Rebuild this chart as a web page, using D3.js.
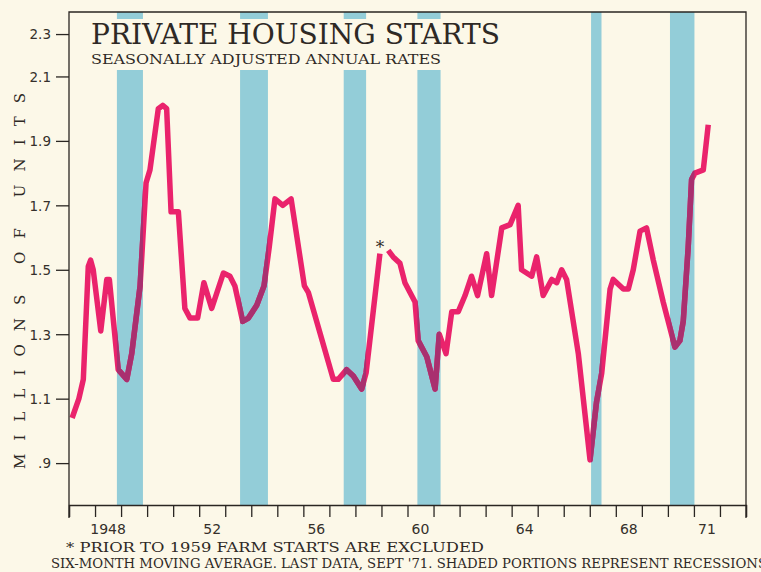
<!DOCTYPE html>
<html>
<head>
<meta charset="utf-8">
<script src="https://cdn.jsdelivr.net/npm/d3@7"></script>
<style>
  html, body { margin: 0; padding: 0; background: #fcf8e8; }
  svg { display: block; }
  .num { font-family: "DejaVu Sans", sans-serif; fill: #35302b; }
  .letters { font-family: "DejaVu Serif", serif; fill: #2e2925; }
</style>
</head>
<body>
<div id="chart"></div>
<script>
// six-month moving average, millions of units
const years = [
  1947.12, 1947.38, 1947.55, 1947.74, 1947.83, 1947.93, 1948.22, 1948.45, 1948.55, 1948.89,
  1949.22, 1949.41, 1949.73, 1949.96, 1950.11, 1950.43, 1950.60, 1950.75, 1950.92, 1951.20,
  1951.45, 1951.65, 1951.94, 1952.18, 1952.48, 1952.93, 1953.18, 1953.37, 1953.67, 1953.89,
  1954.21, 1954.49, 1954.69, 1954.91, 1955.21, 1955.53, 1956.04, 1956.19, 1957.15, 1957.34,
  1957.66, 1957.92, 1958.24, 1958.41, 1958.94, 1959.10, 1959.26, 1959.45, 1959.71, 1959.90,
  1960.29, 1960.41, 1960.74, 1961.06, 1961.22, 1961.48, 1961.70, 1961.95, 1962.21, 1962.46,
  1962.69, 1963.04, 1963.23, 1963.62, 1963.94, 1964.25, 1964.38, 1964.77, 1964.96, 1965.21,
  1965.54, 1965.73, 1965.92, 1966.11, 1966.56, 1967.01, 1967.26, 1967.46, 1967.78, 1967.90,
  1968.29, 1968.48, 1968.67, 1968.93, 1969.18, 1969.44, 1969.82, 1970.27, 1970.46, 1970.59,
  1970.78, 1970.91, 1971.04, 1971.36, 1971.55
];
// null = break in the series (farm starts included from 1959)
const starts = [
  1.04, 1.10, 1.16, 1.51, 1.53, 1.50, 1.31, 1.47, 1.47, 1.19,
  1.16, 1.24, 1.45, 1.77, 1.81, 2.00, 2.01, 2.00, 1.68, 1.68,
  1.38, 1.35, 1.35, 1.46, 1.38, 1.49, 1.48, 1.45, 1.34, 1.35,
  1.39, 1.45, 1.57, 1.72, 1.70, 1.72, 1.45, 1.43, 1.16, 1.16,
  1.19, 1.17, 1.13, 1.18, 1.55, null, 1.56, 1.54, 1.52, 1.46,
  1.40, 1.28, 1.23, 1.13, 1.30, 1.24, 1.37, 1.37, 1.42, 1.48,
  1.42, 1.55, 1.42, 1.63, 1.64, 1.70, 1.50, 1.48, 1.54, 1.42,
  1.47, 1.46, 1.50, 1.47, 1.24, 0.91, 1.09, 1.18, 1.44, 1.47,
  1.44, 1.44, 1.50, 1.62, 1.63, 1.53, 1.40, 1.26, 1.28, 1.34,
  1.57, 1.78, 1.80, 1.81, 1.95
];

const recessionStarts = [1948.84, 1953.57, 1957.55, 1960.38, 1967.05, 1970.08];
const recessionEnds   = [1949.84, 1954.64, 1958.41, 1961.27, 1967.45, 1971.02];

const yTicks = [0.9, 1.1, 1.3, 1.5, 1.7, 1.9, 2.1];
const yTickLabels = [".9", "1.1", "1.3", "1.5", "1.7", "1.9", "2.1"];
const xLabelYears = [1948, 1952, 1956, 1960, 1964, 1968, 1971];
const xLabels = ["1948", "52", "56", "60", "64", "68", "71"];

const title = "PRIVATE HOUSING STARTS";
const subtitle = "SEASONALLY ADJUSTED ANNUAL RATES";
const yTitle = "MILLIONS OF UNITS";
const note1 = "* PRIOR  TO 1959 FARM STARTS ARE EXCLUDED";
const note2 = "SIX-MONTH MOVING AVERAGE. LAST DATA, SEPT '71.   SHADED PORTIONS REPRESENT RECESSIONS";

const W = 761, H = 572;
const pLeft = 69, pRight = 746, pTop = 12, pBottom = 505;
const ink = "#2a2622";
const bandColor = "#93cdd8";
const lineColor = "#ea236c";
const lineOnBand = "#a9306f";
const bg = "#fcf8e8";

const x = d3.scaleLinear().domain([1947, 1973]).range([pLeft, pRight]);
const y = d3.scaleLinear().domain([0.77, 2.30]).range([pBottom, pTop]);

const svg = d3.select("#chart").append("svg")
  .attr("width", W).attr("height", H)
  .style("background", bg);

// recession bands
const bands = recessionStarts.map((s, i) => ({ s, e: recessionEnds[i] }));
svg.append("g").selectAll("rect")
  .data(bands)
  .join("rect")
  .attr("x", (d) => x(d.s))
  .attr("width", (d) => x(d.e) - x(d.s))
  .attr("y", pTop)
  .attr("height", pBottom - pTop)
  .attr("fill", bandColor);

// same bands as a clip, for the darker ink where line crosses them
svg.append("clipPath")
  .attr("id", "band-clip")
  .selectAll("rect")
  .data(bands)
  .join("rect")
  .attr("x", (d) => x(d.s))
  .attr("width", (d) => x(d.e) - x(d.s))
  .attr("y", pTop)
  .attr("height", pBottom - pTop);

// title block knocks out the bands behind it
svg.append("rect")
  .attr("x", 82).attr("y", 19)
  .attr("width", 423).attr("height", 51)
  .attr("fill", bg);

svg.append("text")
  .attr("class", "letters")
  .attr("x", 91).attr("y", 44)
  .attr("font-size", 27)
  .attr("textLength", 409)
  .attr("lengthAdjust", "spacingAndGlyphs")
  .text(title);

svg.append("text")
  .attr("class", "letters")
  .attr("x", 91).attr("y", 64)
  .attr("font-size", 13)
  .attr("textLength", 350)
  .attr("lengthAdjust", "spacingAndGlyphs")
  .text(subtitle);

// series
const pts = years.map((d, i) => ({ t: d, v: starts[i] }));
const line = d3.line()
  .defined((d) => d.v !== null)
  .x((d) => x(d.t))
  .y((d) => y(d.v));

svg.append("path")
  .datum(pts)
  .attr("d", line)
  .attr("fill", "none")
  .attr("stroke", lineColor)
  .attr("stroke-width", 5.5)
  .attr("stroke-linejoin", "round");

svg.append("path")
  .datum(pts)
  .attr("d", line)
  .attr("clip-path", "url(#band-clip)")
  .attr("fill", "none")
  .attr("stroke", lineOnBand)
  .attr("stroke-width", 5.5)
  .attr("stroke-linejoin", "round");

// asterisk on the last pre-1959 point
const lastOld = pts[starts.indexOf(null) - 1];
svg.append("text")
  .attr("class", "letters")
  .attr("x", x(lastOld.t))
  .attr("y", y(lastOld.v) - 1)
  .attr("text-anchor", "middle")
  .attr("font-size", 17)
  .text("*");

// frame
svg.append("path")
  .attr("d", `M${pLeft},${pBottom + 13}V${pTop}H${pRight}V${pBottom + 13}`)
  .attr("stroke", ink)
  .attr("stroke-width", 1.3)
  .attr("fill", "none");

// y axis
const yAxis = svg.append("g")
  .attr("transform", `translate(${pLeft},0)`)
  .call(
    d3.axisLeft(y)
      .tickValues(yTicks)
      .tickSize(13)
      .tickPadding(5)
      .tickFormat((d, i) => yTickLabels[i])
  );
yAxis.select(".domain").remove();
yAxis.selectAll(".tick line").attr("stroke", ink).attr("stroke-width", 1.3);
yAxis.selectAll(".tick text")
  .attr("class", "num")
  .attr("font-size", 13.5)
  .attr("dy", "0.36em");

// the hand-drawn 2.3 tick sits lower than the scale would put it
const y23 = y(2.23);
svg.append("line")
  .attr("x1", pLeft - 13).attr("x2", pLeft)
  .attr("y1", y23).attr("y2", y23)
  .attr("stroke", ink).attr("stroke-width", 1.3);
svg.append("text")
  .attr("class", "num")
  .attr("x", pLeft - 18).attr("y", y23)
  .attr("dy", "0.36em")
  .attr("text-anchor", "end")
  .attr("font-size", 13.5)
  .text("2.3");

// x axis: a tick at every year boundary, labels centred in the year
const xAxis = svg.append("g")
  .attr("transform", `translate(0,${pBottom})`)
  .call(
    d3.axisBottom(x)
      .tickValues(d3.range(1947, 1974))
      .tickSize(12)
      .tickFormat("")
  );
xAxis.select(".domain").attr("stroke", ink).attr("stroke-width", 1.3);
xAxis.selectAll(".tick line").attr("stroke", ink).attr("stroke-width", 1.3);

svg.append("g").selectAll("text")
  .data(xLabelYears)
  .join("text")
  .attr("class", "num")
  .attr("x", (d) => x(d + 0.5))
  .attr("y", 534)
  .attr("text-anchor", "middle")
  .attr("font-size", 14)
  .text((d, i) => xLabels[i]);

// y title, reading bottom to top
svg.append("text")
  .attr("class", "letters")
  .attr("transform", "translate(25,281) rotate(-90)")
  .attr("text-anchor", "middle")
  .attr("font-size", 15)
  .attr("textLength", 376)
  .attr("lengthAdjust", "spacing")
  .text(yTitle);

// notes
svg.append("text")
  .attr("class", "letters")
  .attr("x", 66).attr("y", 552)
  .attr("font-size", 13)
  .attr("textLength", 418)
  .attr("lengthAdjust", "spacingAndGlyphs")
  .text(note1);

svg.append("text")
  .attr("class", "letters")
  .attr("x", 51).attr("y", 568)
  .attr("font-size", 13)
  .attr("textLength", 716)
  .attr("lengthAdjust", "spacingAndGlyphs")
  .text(note2);
</script>
</body>
</html>
